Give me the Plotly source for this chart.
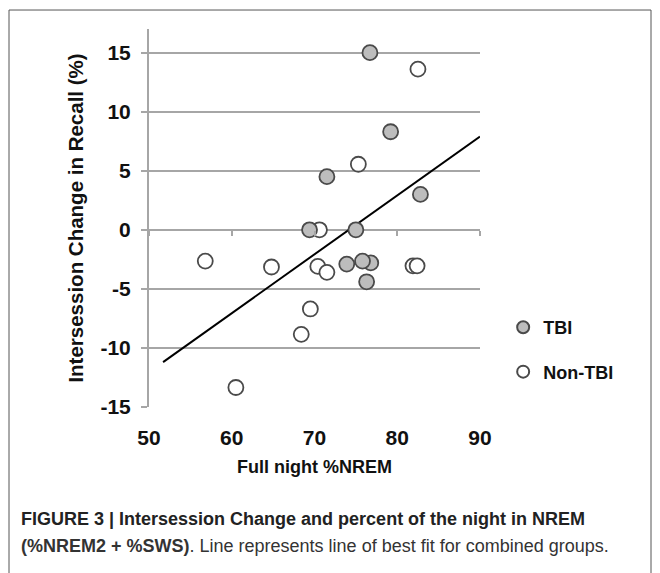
import plotly.graph_objects as go

# Data
tbi_x = [76.7, 79.2, 71.5, 82.8, 69.4, 75.0, 73.9, 76.8, 75.8, 76.3]
tbi_y = [15.0, 8.3, 4.5, 3.0, 0.0, 0.0, -2.9, -2.8, -2.65, -4.4]

non_x = [82.5, 75.3, 70.6, 56.8, 64.8, 70.4, 71.5, 81.9, 82.4, 69.5, 68.4, 60.5]
non_y = [13.6, 5.55, 0.0, -2.65, -3.15, -3.1, -3.6, -3.05, -3.05, -6.7, -8.85, -13.35]

fit_x = [51.7, 90.0]
fit_y = [-11.2, 7.9]

x_ticks = [50, 60, 70, 80, 90]
y_ticks = [-15, -10, -5, 0, 5, 10, 15]
y_tick_labels = ["-15", "-10", "-5", "0", "5", "10", "15"]
x_range = [50, 90]
y_range = [-15, 17]

FONT = "Liberation Sans, Arial, sans-serif"
CAP_FONT = "Liberation Sans, Arial, sans-serif"
GRID = "#a6a6a6"

fig = go.Figure()
fig.add_trace(go.Scatter(
    x=fit_x, y=fit_y, mode="lines", line=dict(color="black", width=2),
    showlegend=False, hoverinfo="skip"))
fig.add_trace(go.Scatter(
    x=non_x, y=non_y, mode="markers", name="<b>Non-TBI</b>", legendgroup="b", legendrank=2,
    marker=dict(size=15, color="white", line=dict(color="#4a4a4a", width=1.8))))
fig.add_trace(go.Scatter(
    x=tbi_x, y=tbi_y, mode="markers", name="<b>TBI</b>", legendgroup="a", legendrank=1,
    marker=dict(size=15, color="#bdbdbd", line=dict(color="#4a4a4a", width=1.8))))
# invisible helper axis carrying the tick marks on the y=0 line
fig.add_trace(go.Scatter(x=x_range, y=[0, 0], xaxis="x2", mode="markers",
                         marker=dict(opacity=0), showlegend=False, hoverinfo="skip"))

zero_pos = (0 - y_range[0]) / (y_range[1] - y_range[0])

# page has an 8px body margin, so the figure is drawn at (8, 8)
fig.update_layout(
    width=652, height=565,
    margin=dict(l=141, r=180, t=21, b=165.5, autoexpand=False),
    paper_bgcolor="white", plot_bgcolor="white",
    font=dict(family=FONT, color="#111"),
    xaxis=dict(range=x_range, tickvals=x_ticks, showgrid=False, zeroline=False,
               showline=False, ticks="", ticklabelstandoff=16, automargin=False,
               tickfont=dict(size=21, family=FONT, color="#111", weight="bold"),
               title=dict(text="<b>Full night %NREM</b>", font=dict(size=18, color="#111"),
                          standoff=12)),
    xaxis2=dict(range=x_range, overlaying="x", anchor="free", position=zero_pos,
                tickvals=x_ticks, showticklabels=False, ticks="outside", ticklen=5,
                tickcolor=GRID, tickwidth=1.5, showgrid=False, zeroline=False,
                showline=False, automargin=False),
    yaxis=dict(range=y_range, tickvals=y_ticks, ticktext=y_tick_labels,
               showgrid=True, gridcolor=GRID,
               gridwidth=2, zeroline=True, zerolinecolor=GRID, zerolinewidth=2,
               showline=True, linecolor=GRID, linewidth=2, ticks="outside",
               ticklen=6, tickcolor=GRID, tickwidth=2, ticklabelstandoff=6,
               automargin=False,
               tickfont=dict(size=21, family=FONT, color="#111", weight="bold"),
               title=dict(text="<b>Intersession Change in Recall (%)</b>",
                          font=dict(size=20.5, color="#111"), standoff=11)),
    legend=dict(x=1.07, y=0.152, xanchor="left", yanchor="middle",
                font=dict(size=18, family=FONT, color="#111"),
                itemsizing="constant", tracegroupgap=18, traceorder="grouped",
                bgcolor="rgba(0,0,0,0)"),
    showlegend=True,
)

# frame around the figure (paper fractions measured from the plot area)
pw, ph = 331.0, 378.5
fig.add_shape(type="rect", xref="paper", yref="paper",
              x0=(9 - 149) / pw, x1=(651 - 149) / pw,
              y0=(407.5 - 590) / ph, y1=(407.5 - 10) / ph,
              line=dict(color="#555", width=1), fillcolor="rgba(0,0,0,0)", layer="below")

fig.add_annotation(xref="paper", yref="paper", x=(19 - 149) / pw, y=(407.5 - 520) / ph,
                   xanchor="left", yanchor="middle", showarrow=False,
                   text="<b>FIGURE 3 | Intersession Change and percent of the night in NREM</b>",
                   font=dict(family=CAP_FONT, size=18, color="#222"))
fig.add_annotation(xref="paper", yref="paper", x=(19 - 149) / pw, y=(407.5 - 547) / ph,
                   xanchor="left", yanchor="middle", showarrow=False,
                   text="<b>(%NREM2 + %SWS)</b>. Line represents line of best fit for combined groups.",
                   font=dict(family=CAP_FONT, size=18, color="#333"))

fig.write_html("out.html")
